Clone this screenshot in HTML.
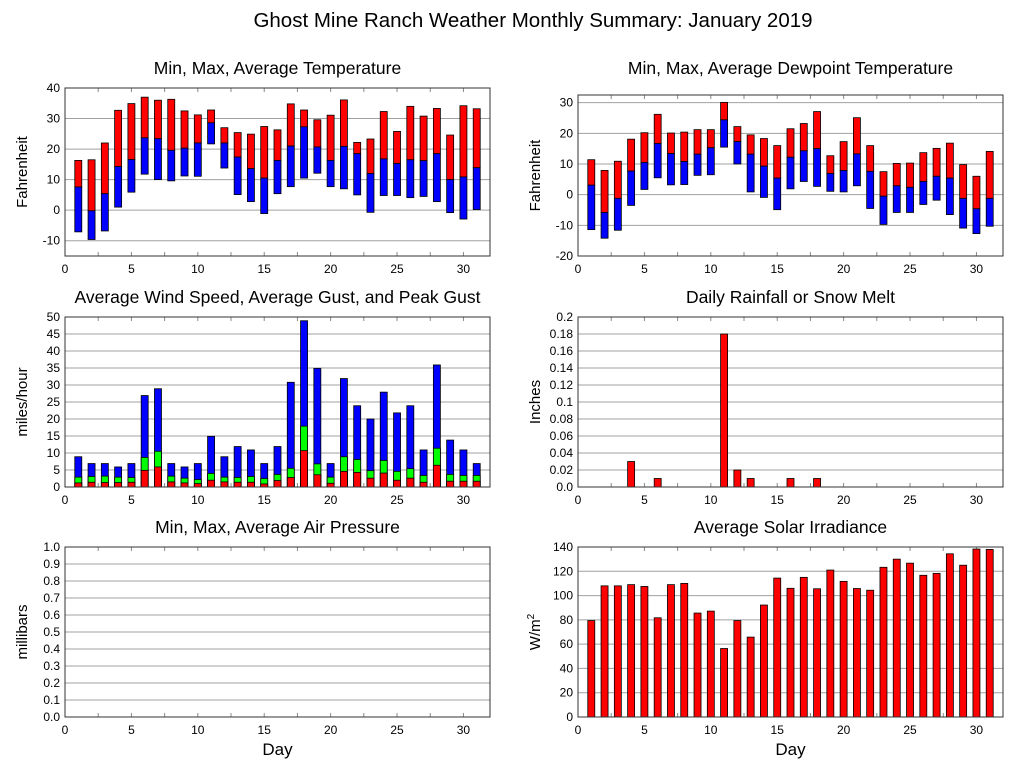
<!DOCTYPE html>
<html><head><meta charset="utf-8">
<style>
html,body{margin:0;padding:0;background:#fff;}
svg{display:block;font-family:"Liberation Sans",sans-serif;}
</style></head>
<body>
<svg id="c" width="1027" height="772" xmlns="http://www.w3.org/2000/svg">
<text x="533" y="27" font-size="20.5" text-anchor="middle">Ghost Mine Ranch Weather Monthly Summary: January 2019</text>
</svg>
<script>
const days = Array.from({length:31},(_,i)=>i+1);
const tempMax = [16.3,16.5,22,32.7,34.9,37,36,36.3,32.5,31.2,32.8,27,25.4,24.9,27.4,26.3,34.8,32.8,29.6,31.1,36.1,22.2,23.3,32.3,25.8,34,30.8,33.3,24.6,34.2,33.2];
const tempAvg = [7.6,-0.2,5.4,14.3,16.6,23.7,23.4,19.6,20.3,22,28.6,22,17.4,13.6,10.5,16.3,21,27.3,20.7,16.3,20.9,18.5,12,16.8,15.3,16.5,16.2,18.5,10,10.9,13.9];
const tempMin = [-7.1,-9.6,-6.8,1,5.9,11.8,10,9.6,11.2,11.1,21.7,13.8,5.1,2.8,-1.1,5.4,7.7,10.5,12.1,7.7,7,5,-0.7,4.8,4.8,4.1,4.5,2.8,-0.8,-2.9,0.2];
const dewMax = [11.4,7.9,10.9,18.1,20.2,26.2,20.1,20.4,21.2,21.2,30.1,22.2,19.5,18.3,16,21.5,23.2,27.1,12.7,17.3,25.1,16,7.5,10.2,10.3,13.7,15.1,16.8,9.8,6,14.1];
const dewAvg = [3.1,-5.8,-1.2,7.7,10.5,16.7,13.4,10.8,13.2,15.3,24.4,17.3,13.2,9.3,5.4,12.2,14.3,15,6.9,7.9,13.3,7.6,-0.5,2.9,2.4,4.3,6,5.4,-1.2,-4.6,-1.2];
const dewMin = [-11.4,-14.2,-11.6,-3.5,1.7,5.5,3.2,3.3,6.3,6.5,15.5,10,0.9,-0.9,-4.9,1.9,4.3,2.7,1.1,0.9,2.9,-4.5,-9.7,-5.8,-5.8,-3.2,-1.8,-6.5,-10.9,-12.7,-10.3];
const windPeak = [8.9,6.9,6.9,5.9,6.9,26.9,28.9,6.9,5.9,6.9,14.9,8.9,11.9,10.9,6.9,11.9,30.8,48.9,34.9,6.9,31.9,23.9,20,27.9,21.8,23.9,10.9,35.9,13.8,10.9,6.9];
const windGust = [2.9,3.1,3.2,2.9,2.8,8.7,10.5,3.2,2.6,2.2,4,2.9,2.8,3.1,2.5,3.7,5.5,17.9,6.8,2.9,8.9,8.1,4.8,7.8,4.6,5.4,3.4,11.4,3.7,3.4,3.4];
const windAvg = [1.2,1.4,1.3,1.3,1.4,4.9,5.9,1.5,1.2,1,2,1.5,1.4,1.4,0.9,1.9,2.8,10.7,3.6,1.1,4.6,4.3,2.6,4.1,2,2.6,1.4,6.4,1.7,1.7,1.7];
const rain = [0,0,0,0.03,0,0.01,0,0,0,0,0.18,0.02,0.01,0,0,0.01,0,0.01,0,0,0,0,0,0,0,0,0,0,0,0,0];
const solar = [79.4,108,108,109,107.5,81.7,109,110,85.6,87.2,56.4,79.4,65.8,92.2,114.4,106,115,105.6,121,111.7,105.8,104.4,123.3,130,126.7,116.7,118.3,134.4,125,138.3,138];
const xTicks = [0,5,10,15,20,25,30];
const tempTicks = [-10,0,10,20,30,40];
const dewTicks = [-20,-10,0,10,20,30];
const windTicks = [0,5,10,15,20,25,30,35,40,45,50];
const rainTicks = [0,0.02,0.04,0.06,0.08,0.1,0.12,0.14,0.16,0.18,0.2];
const presTicks = [0,0.1,0.2,0.3,0.4,0.5,0.6,0.7,0.8,0.9,1.0];
const solarTicks = [0,20,40,60,80,100,120,140];

const NS="http://www.w3.org/2000/svg";
const svg=document.getElementById('c');
function mk(tag,attrs,parent){const e=document.createElementNS(NS,tag);for(const k in attrs)e.setAttribute(k,attrs[k]);(parent||svg).appendChild(e);return e;}

function panel(name,box,ymin,ymax,yticks,fmt,title,titleY,ylabel,xlabel){
  const g=mk('g',{});
  
  
  const sx=d=>box.x0+(d/32)*(box.x1-box.x0);
  const sy=v=>box.y1-(v-ymin)/(ymax-ymin)*(box.y1-box.y0);
  yticks.forEach(t=>{
    const y=sy(t);
    const l=mk('line',{x1:box.x0,x2:box.x1,y1:y,y2:y,stroke:'#a0a0a0','stroke-width':1},g);
    
    
    const tx=mk('text',{x:box.x0-5,y:y+4,'font-size':12,'text-anchor':'end'},g);
    tx.textContent=fmt(t);
    
    
  });
  for(let d=0;d<=32;d+=2.5){
    const x=sx(d);
    mk('line',{x1:x,x2:x,y1:box.y1,y2:box.y1-4,stroke:'#888'},g);
    mk('line',{x1:x,x2:x,y1:box.y0,y2:box.y0+4,stroke:'#888'},g);
  }
  xTicks.forEach(t=>{
    const tx=mk('text',{x:sx(t),y:box.y1+17,'font-size':12,'text-anchor':'middle'},g);
    tx.textContent=t;
    
    
  });
  const tt=mk('text',{x:(box.x0+box.x1)/2,y:titleY,'font-size':17.5,'text-anchor':'middle'},g);
  tt.textContent=title;
  
  
  const yl=mk('text',{x:0,y:0,'font-size':15,'text-anchor':'middle',transform:`translate(${box.x0-38},${(box.y0+box.y1)/2}) rotate(-90)`},g);
  if(ylabel==='W/m2'){yl.innerHTML='W/m<tspan font-size="10" dy="-6">2</tspan>';}else yl.textContent=ylabel;
  
  
  if(xlabel){
    const xl=mk('text',{x:(box.x0+box.x1)/2,y:box.y1+38,'font-size':17,'text-anchor':'middle'},g);
    xl.textContent=xlabel;
    
    
  }
  return {g,sx,sy,box};
}
function bar(p,d,a,b,color,name){
  const x=p.sx(d)-3.5;const y1=p.sy(Math.max(a,b)),y2=p.sy(Math.min(a,b));
  const r=mk('rect',{x:x,y:y1,width:7,height:Math.max(0,y2-y1),fill:color,stroke:'#000','stroke-width':0.8},p.g);
  
  
}
function frame(p){
  const b=p.box;
  const f=mk('rect',{x:b.x0,y:b.y0,width:b.x1-b.x0,height:b.y1-b.y0,fill:'none',stroke:'#333','stroke-width':1},p.g);
  
  
}
const L={x0:65,x1:490}, R={x0:578,x1:1003};
const f0=v=>String(v);
let p=panel('temperature',{...L,y0:88,y1:256},-15,40,tempTicks,f0,'Min, Max, Average Temperature',74,'Fahrenheit');
days.forEach((d,i)=>{bar(p,d,tempMax[i],tempAvg[i],'#ff0000','bar-temp-max-'+d);bar(p,d,tempAvg[i],tempMin[i],'#0000ff','bar-temp-min-'+d);});
frame(p);
p=panel('dewpoint',{...R,y0:95,y1:256},-20,32.5,dewTicks,f0,'Min, Max, Average Dewpoint Temperature',74,'Fahrenheit');
days.forEach((d,i)=>{bar(p,d,dewMax[i],dewAvg[i],'#ff0000','bar-dew-max-'+d);bar(p,d,dewAvg[i],dewMin[i],'#0000ff','bar-dew-min-'+d);});
frame(p);
p=panel('wind',{...L,y0:317,y1:487},0,50,windTicks,f0,'Average Wind Speed, Average Gust, and Peak Gust',303,'miles/hour');
days.forEach((d,i)=>{bar(p,d,windPeak[i],0,'#0000ff','bar-peak-gust-'+d);bar(p,d,windGust[i],0,'#00ff00','bar-avg-gust-'+d);bar(p,d,windAvg[i],0,'#ff0000','bar-avg-wind-'+d);});
frame(p);
p=panel('rainfall',{...R,y0:317,y1:487},0,0.2,rainTicks,v=>v===0?'0.0':(+v.toFixed(2)).toString(),'Daily Rainfall or Snow Melt',303,'Inches');
days.forEach((d,i)=>{if(rain[i]>0)bar(p,d,rain[i],0,'#ff0000','bar-rain-'+d);});
frame(p);
p=panel('pressure',{...L,y0:547,y1:717},0,1,presTicks,v=>v.toFixed(1),'Min, Max, Average Air Pressure',533,'millibars','Day');
frame(p);
p=panel('solar',{...R,y0:547,y1:717},0,140,solarTicks,f0,'Average Solar Irradiance',533,'W/m2','Day');
days.forEach((d,i)=>{bar(p,d,solar[i],0,'#ff0000','bar-solar-'+d);});
frame(p);
</script>
</body></html>
